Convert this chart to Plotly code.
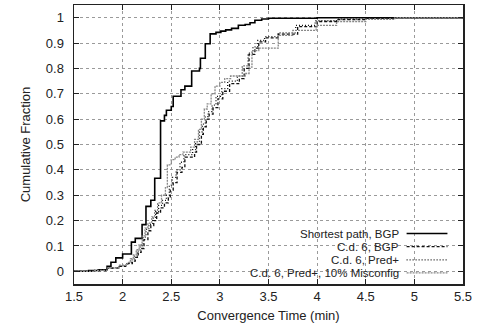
import plotly.graph_objects as go

# ---- data ----
sp_x = [1.5, 1.65, 1.75, 1.84, 1.88, 1.93, 2.00, 2.09, 2.13, 2.20, 2.24, 2.29, 2.33, 2.39, 2.43, 2.45,
        2.50, 2.52, 2.60, 2.64, 2.71, 2.79, 2.80, 2.85, 2.90, 2.96, 3.01, 3.06, 3.12, 3.19, 3.26,
        3.31, 3.36, 3.43, 3.50, 4.0, 5.5]
sp_y = [0.0, 0.003, 0.006, 0.02, 0.036, 0.053, 0.068, 0.115, 0.13, 0.184, 0.256, 0.28, 0.367, 0.593,
        0.615, 0.635, 0.65, 0.69, 0.716, 0.73, 0.79, 0.80, 0.84, 0.897, 0.936, 0.942, 0.947, 0.952,
        0.958, 0.97, 0.973, 0.98, 0.99, 0.995, 0.998, 1.0, 1.0]

bgp_x = [1.5, 1.7, 1.84, 1.95, 2.03, 2.10, 2.13, 2.16, 2.19, 2.22, 2.26, 2.29, 2.32, 2.35, 2.39,
         2.43, 2.47, 2.49, 2.52, 2.56, 2.61, 2.64, 2.74, 2.76, 2.81, 2.83, 2.86, 2.89, 2.93, 2.98,
         3.03, 3.10, 3.20, 3.25, 3.30, 3.36, 3.40, 3.47, 3.60, 3.80, 4.00, 4.20, 4.50, 4.80, 5.5]
bgp_y = [0.0, 0.003, 0.012, 0.02, 0.03, 0.04, 0.055, 0.075, 0.09, 0.125, 0.16, 0.18, 0.20, 0.23,
         0.25, 0.27, 0.29, 0.32, 0.35, 0.39, 0.41, 0.45, 0.47, 0.50, 0.54, 0.57, 0.60, 0.62, 0.645,
         0.68, 0.71, 0.74, 0.76, 0.80, 0.855, 0.88, 0.905, 0.92, 0.935, 0.965, 0.985, 0.992, 0.997,
         1.0, 1.0]

pred_x = [1.5, 1.7, 1.84, 1.96, 2.05, 2.09, 2.12, 2.15, 2.18, 2.21, 2.24, 2.27, 2.31, 2.34, 2.37,
          2.41, 2.45, 2.48, 2.51, 2.55, 2.59, 2.63, 2.72, 2.75, 2.79, 2.82, 2.85, 2.88, 2.92, 2.96,
          3.02, 3.08, 3.18, 3.23, 3.29, 3.34, 3.39, 3.46, 3.60, 3.78, 3.98, 4.20, 4.50, 4.75, 5.5]
pred_y = [0.0, 0.004, 0.014, 0.022, 0.032, 0.045, 0.06, 0.08, 0.10, 0.135, 0.165, 0.185, 0.21, 0.235,
          0.26, 0.28, 0.30, 0.34, 0.37, 0.40, 0.43, 0.46, 0.48, 0.51, 0.55, 0.58, 0.61, 0.63, 0.655,
          0.69, 0.72, 0.75, 0.77, 0.81, 0.86, 0.885, 0.91, 0.925, 0.94, 0.97, 0.988, 0.994, 0.998,
          1.0, 1.0]

mis_x = [1.5, 1.7, 1.84, 1.96, 2.05, 2.08, 2.11, 2.14, 2.17, 2.20, 2.23, 2.26, 2.30, 2.33, 2.36,
         2.40, 2.44, 2.46, 2.50, 2.54, 2.58, 2.62, 2.70, 2.74, 2.78, 2.81, 2.84, 2.87, 2.91, 2.95,
         3.00, 3.05, 3.11, 3.26, 3.30, 3.33, 3.40, 3.60, 3.75, 3.99, 4.20, 4.50, 4.80, 5.5]
mis_y = [0.0, 0.004, 0.013, 0.024, 0.035, 0.05, 0.065, 0.085, 0.105, 0.14, 0.17, 0.19, 0.215, 0.24,
         0.27, 0.30, 0.33, 0.42, 0.44, 0.45, 0.46, 0.47, 0.49, 0.52, 0.56, 0.60, 0.64, 0.66, 0.70,
         0.73, 0.745, 0.76, 0.77, 0.78, 0.805, 0.87, 0.88, 0.93, 0.95, 0.97, 0.985, 0.993, 1.0, 1.0]

names = ["Shortest path, BGP", "C.d. 6, BGP", "C.d. 6, Pred+", "C.d. 6, Pred+, 10% Misconfig"]
xs = [sp_x, bgp_x, pred_x, mis_x]
ys = [sp_y, bgp_y, pred_y, mis_y]
x_ticks = [1.5, 2, 2.5, 3, 3.5, 4, 4.5, 5, 5.5]
y_ticks = [0, 0.1, 0.2, 0.3, 0.4, 0.5, 0.6, 0.7, 0.8, 0.9, 1]

styles = [
    dict(color="#000000", width=1.6, dash="solid"),
    dict(color="#111111", width=1.3, dash="3px,2px"),
    dict(color="#111111", width=1.3, dash="1px,2px"),
    dict(color="#888888", width=1.3, dash="2px,1px"),
]

FONT = "Liberation Sans, Arial, Helvetica, sans-serif"

fig = go.Figure()
for x, y, n, s in zip(xs, ys, names, styles):
    fig.add_trace(go.Scatter(x=x, y=y, name=n, mode="lines", line_shape="hv",
                             line=s, showlegend=False, hoverinfo="skip"))

# custom gnuplot-style key (text right-aligned, sample on the right)
fig.add_shape(type="rect", xref="paper", yref="paper", x0=0.252, x1=0.995, y0=0.004, y1=0.215,
              fillcolor="white", line_width=0, layer="between")
row_y = [0.181, 0.134, 0.0867, 0.0398]
for n, s, yy in zip(names, styles, row_y):
    fig.add_annotation(xref="paper", yref="paper", x=0.838, y=yy, text=n, showarrow=False,
                       xanchor="right", yanchor="middle", borderpad=0,
                       font=dict(size=11.5, color="#222", family=FONT))
    fig.add_shape(type="line", xref="paper", yref="paper", x0=0.855, x1=0.960, y0=yy, y1=yy,
                  line=s, layer="above")

axis_common = dict(showline=True, linecolor="#222", linewidth=1.5, mirror="allticks",
                   ticks="inside", ticklen=5, tickwidth=1, tickcolor="#222",
                   showgrid=True, gridcolor="#9a9a9a", griddash="dot", gridwidth=1,
                   zeroline=False, automargin=False, ticklabeloverflow="allow",
                   tickfont=dict(size=13, color="#222", family=FONT))

fig.update_xaxes(range=[1.5, 5.5], tickvals=x_ticks, ticktext=[f"{v:g}" for v in x_ticks],
                 title=dict(text="Convergence Time (min)", font=dict(size=13, color="#222", family=FONT),
                            standoff=8),
                 **axis_common)
fig.update_yaxes(range=[-0.05, 1.05], tickvals=y_ticks, ticktext=[f"{v:g}" for v in y_ticks],
                 title=dict(text="Cumulative Fraction", font=dict(size=13, color="#222", family=FONT),
                            standoff=12),
                 ticklabelstandoff=6, **axis_common)

fig.update_layout(template="none", width=477, height=329, margin=dict(l=74, r=14, t=5, b=45),
                  plot_bgcolor="white", paper_bgcolor="white", showlegend=False,
                  font=dict(family=FONT, size=13, color="#222"))

fig.write_html("out.html", config={"displayModeBar": False, "staticPlot": True},
               post_script="document.body.style.margin='0';")
